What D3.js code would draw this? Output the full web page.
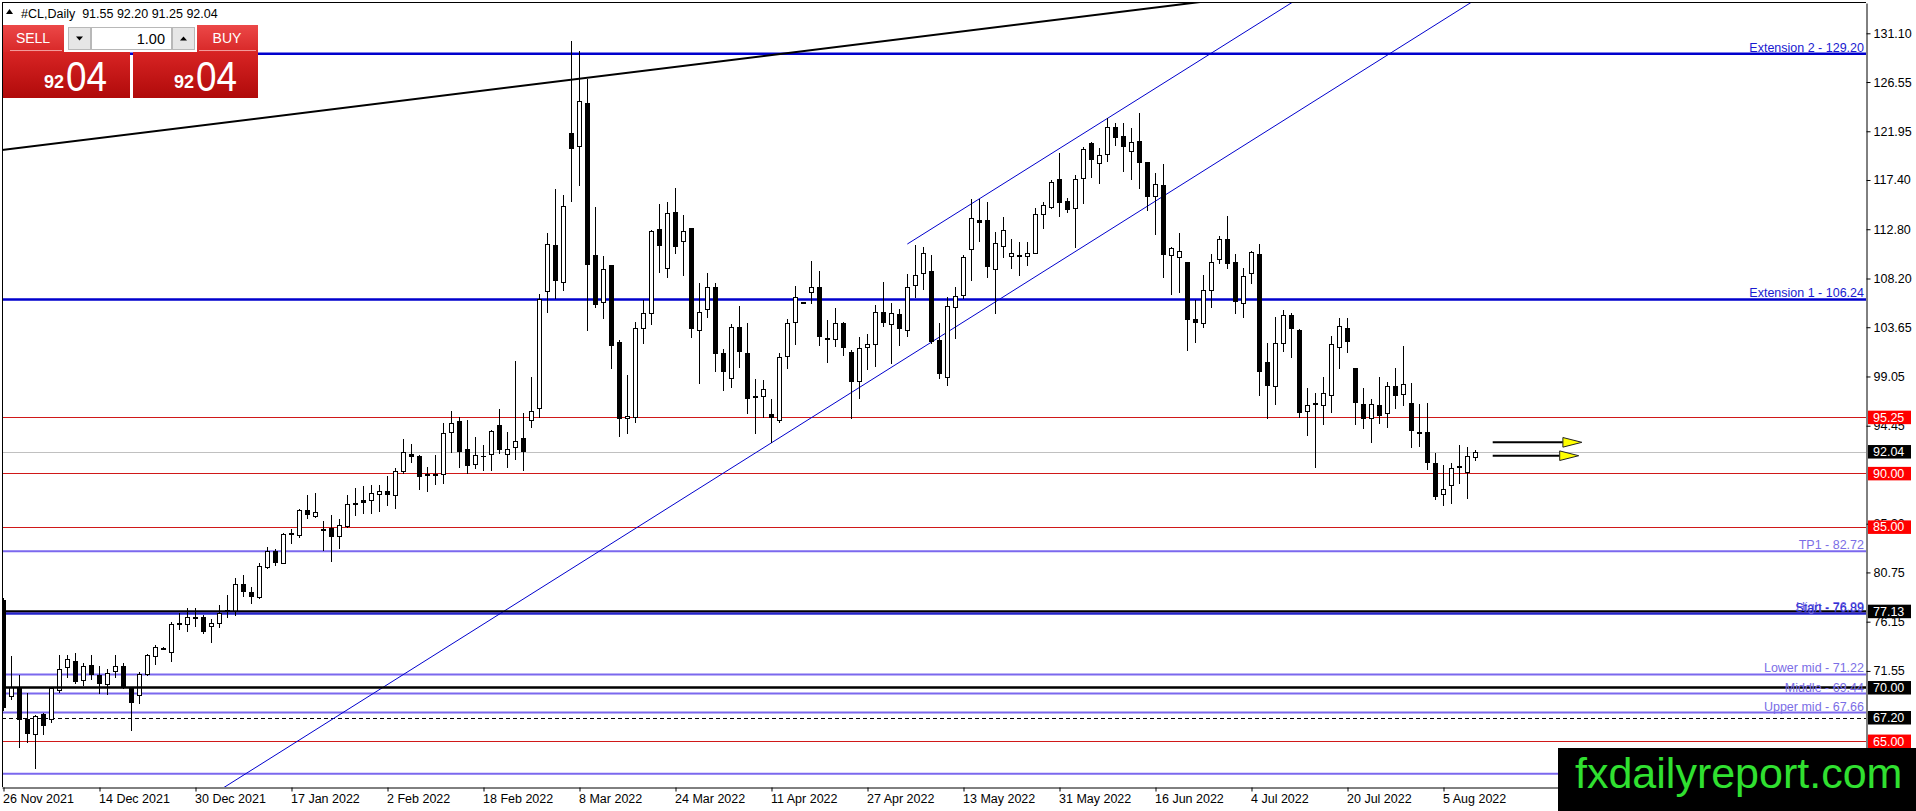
<!DOCTYPE html>
<html><head><meta charset="utf-8">
<script src="https://cdn.jsdelivr.net/npm/d3@7"></script>
<style>html,body{margin:0;padding:0;background:#fff;overflow:hidden}svg{display:block}</style>
</head><body>
<svg id="chart" width="1916" height="811"></svg>
<script>
// ---------------- DATA ----------------
const symbolName = "#CL,Daily";
const opens = [78.17,69.21,70.02,67.03,65.63,67.49,67.03,69.77,71.88,72.50,
70.70,72.07,71.17,70.33,71.51,72.01,70.02,69.30,71.26,73.00,
73.69,73.35,75.98,75.93,76.55,76.62,75.68,75.99,77.18,77.18,
79.67,78.92,78.42,81.29,82.78,81.66,84.34,84.24,86.58,86.02,
84.77,84.87,84.15,85.08,87.20,87.52,87.52,88.13,88.38,87.98,
90.25,91.81,91.62,89.84,89.90,90.00,93.89,94.89,92.25,90.84,
91.58,91.77,94.51,91.77,92.49,93.27,94.92,96.07,107.06,111.33,
107.90,121.75,120.60,124.56,110.39,105.94,109.46,102.30,95.20,95.23,
103.54,105.00,112.79,109.24,114.44,111.73,112.88,103.45,105.32,107.43,
101.21,98.87,103.64,101.21,97.10,97.22,95.51,95.04,100.96,104.07,
105.90,106.97,107.37,102.58,102.51,104.01,101.36,98.56,101.77,102.08,
105.10,104.01,104.88,103.45,107.59,108.68,108.93,102.45,98.97,105.50,
106.66,110.92,113.66,113.66,109.05,111.23,110.24,110.36,110.36,110.61,
114.22,114.91,117.46,115.47,114.75,117.55,120.82,119.02,119.80,122.38,
121.51,120.14,121.01,119.05,115.90,116.90,110.33,110.24,109.71,104.38,
104.01,107.19,109.99,111.86,109.71,105.94,108.74,110.49,100.37,98.16,
102.21,104.79,103.39,95.85,96.50,96.32,97.29,101.77,103.61,99.81,
96.48,95.14,96.38,95.60,98.16,97.41,96.60,93.80,93.83,90.93,
88.04,88.88,90.69,90.16,91.55];
const highs = [78.40,72.94,71.20,69.45,67.40,67.60,70.00,73.00,73.00,73.25,
72.32,73.03,72.01,71.76,73.00,72.26,70.08,71.48,73.13,73.97,
73.75,76.12,76.93,77.39,77.39,76.77,76.37,77.70,78.64,80.20,
80.51,79.42,81.66,83.15,82.90,84.40,84.77,86.64,87.98,88.13,
85.58,86.11,85.71,87.98,88.60,88.82,88.90,88.90,89.75,90.47,
93.18,92.74,91.72,90.56,91.72,94.74,95.86,95.30,94.98,93.37,
92.65,94.05,95.98,93.89,100.52,95.67,99.03,106.75,112.41,116.52,
116.00,130.41,129.48,126.80,114.84,110.30,109.50,102.45,99.18,104.16,
106.19,112.73,115.15,115.37,116.62,114.13,112.90,107.74,108.68,107.74,
101.58,103.95,105.63,104.01,98.78,98.72,96.91,101.27,104.38,107.53,
106.00,109.86,108.93,104.32,105.41,104.16,101.52,102.76,103.01,105.72,
107.90,105.88,105.32,108.62,111.33,111.11,110.39,104.07,106.44,107.43,
110.39,115.59,115.59,115.37,112.57,113.97,111.86,111.64,111.64,114.75,
115.37,117.40,119.89,115.69,117.87,120.51,120.98,120.36,123.16,122.69,
122.69,122.22,123.63,119.11,118.02,118.89,111.17,112.42,109.75,106.19,
108.53,110.49,112.17,114.04,110.49,109.15,110.80,111.42,102.20,104.57,
105.26,104.94,103.45,97.94,97.53,98.97,102.83,104.48,104.48,99.85,
97.94,96.91,98.97,98.56,99.81,101.89,98.47,96.48,96.60,91.93,
90.78,90.93,92.65,92.49,92.20];
const lows = [67.90,68.89,64.47,64.94,62.45,65.66,66.80,69.60,70.95,70.39,
70.23,70.76,69.52,69.39,71.00,69.92,66.03,68.58,71.17,72.19,
73.60,72.51,75.43,75.31,75.74,75.12,74.28,75.68,76.55,76.77,
78.55,77.86,78.33,81.13,81.44,81.60,83.47,84.09,85.80,85.90,
82.84,81.85,83.00,84.96,86.11,86.33,86.33,86.52,87.05,86.73,
90.07,91.09,88.51,88.38,89.00,89.13,92.03,90.56,90.00,90.47,
90.31,90.31,91.93,90.56,91.31,90.31,94.36,95.29,105.10,106.34,
107.12,115.47,116.93,103.39,105.50,104.48,99.81,93.49,93.80,94.82,
102.20,103.95,108.83,108.37,110.55,108.52,102.76,98.47,104.57,99.59,
97.78,98.03,99.90,95.67,93.80,95.23,92.96,94.83,99.81,102.08,
105.88,105.88,101.99,100.43,101.89,101.05,95.14,97.00,99.71,100.02,
103.76,100.27,101.99,102.83,106.44,107.18,102.20,98.87,98.25,102.61,
106.35,108.06,111.73,108.37,105.01,110.24,109.15,108.53,109.46,110.55,
112.88,114.75,114.04,114.44,111.17,115.22,117.65,117.09,119.20,120.67,
118.27,117.46,116.62,114.60,112.35,108.31,106.75,106.97,101.52,102.30,
103.64,105.57,109.61,109.15,105.01,104.57,107.81,97.32,95.14,96.48,
101.46,100.90,95.29,93.58,90.56,94.61,95.76,99.81,101.36,94.61,
94.20,92.96,94.73,94.30,96.07,96.38,92.43,92.55,90.37,87.57,
87.04,87.20,89.07,87.67,91.25];
const closes = [68.10,70.08,66.96,65.66,67.34,66.34,69.92,71.70,72.63,70.54,
72.01,71.17,70.33,71.39,72.01,70.02,68.52,71.26,73.04,73.81,
73.72,75.93,76.02,76.55,76.60,75.18,75.99,76.93,77.22,79.67,
78.95,78.42,81.35,82.78,81.66,84.34,84.40,86.58,86.11,86.42,
84.80,84.03,85.15,87.14,87.27,87.27,88.13,88.38,87.98,90.25,
92.03,91.56,89.69,89.97,89.95,93.80,94.74,92.03,90.69,91.71,
91.56,93.95,92.18,92.24,93.02,91.93,95.79,106.25,111.42,107.99,
114.97,120.26,124.77,109.46,105.72,109.05,101.89,95.14,95.35,103.54,
104.94,112.66,111.23,114.34,111.17,112.66,103.45,105.10,107.37,101.14,
99.40,103.64,101.27,96.91,97.20,97.84,95.14,100.90,104.07,106.44,
105.98,107.43,102.70,102.65,104.01,101.67,98.56,101.67,102.08,105.10,
104.07,105.00,103.45,107.43,108.52,110.55,102.30,99.28,105.63,106.56,
110.24,113.82,113.41,109.24,111.48,112.73,110.55,110.40,110.61,114.22,
115.06,117.24,115.22,114.66,117.46,120.26,119.27,119.73,122.32,121.38,
120.45,120.95,118.95,115.78,116.99,110.33,111.02,110.77,104.26,104.01,
107.12,109.77,111.86,109.55,105.94,108.43,110.70,99.50,98.10,102.14,
104.79,103.45,95.60,96.38,96.58,97.47,102.08,103.76,102.30,96.54,
95.04,96.48,95.36,98.16,97.22,98.34,93.99,93.85,90.93,87.76,
88.51,90.47,90.47,91.62,92.04];

const dateLabels = ["26 Nov 2021","14 Dec 2021","30 Dec 2021","17 Jan 2022","2 Feb 2022","18 Feb 2022","8 Mar 2022","24 Mar 2022","11 Apr 2022","27 Apr 2022","13 May 2022","31 May 2022","16 Jun 2022","4 Jul 2022","20 Jul 2022","5 Aug 2022"];
const dateLabelBars = [0,12,24,36,48,60,72,84,96,108,120,132,144,156,168,180];
const priceTicks = [131.10,126.55,121.95,117.40,112.80,108.20,103.65,99.05,94.45,85.30,80.75,76.15,71.55];

const fiboPrices = [129.20,106.24,82.72,76.99,76.89,71.22,69.44,67.66,61.95];
const fiboNames  = ["Extension 2","Extension 1","TP1","High","Start","Lower mid","Middle","Upper mid",""];
const redLevels = [95.25,90.00,85.00,65.00];
const blackLevels = [77.13,70.00];
const dashedLevels = [67.20];
const lotSize = "1.00";

// trend lines: [bar, price] anchor pairs
const blackTrend = [[59.56,125.71],[119.56,131.25]];
const channelLow = [[27.69,60.73],[159.56,122.75]];
const channelHigh = [[112.98,111.42],[141.65,124.87]];
// arrows: [startBar, endBar, price]
const arrowsData = [[186.15,197.3,92.90],[186.15,196.9,91.65]];

// ---------------- SETUP ----------------
const plot = {left:2, top:3, right:1866, bottom:787};
const FONT = "'Liberation Sans', Arial, sans-serif";
const x = d3.scaleLinear().domain([-0.1875, 232.8125]).range([plot.left, plot.right]);
const y = d3.scaleLinear().domain([60.71, 133.93]).range([plot.bottom, plot.top]);
const svg = d3.select('#chart');
svg.append('rect').attr('width',1916).attr('height',811).attr('fill','#fff');
const defs = svg.append('defs');
defs.append('clipPath').attr('id','clip').append('rect')
  .attr('x',plot.left).attr('y',plot.top).attr('width',plot.right-plot.left).attr('height',plot.bottom-plot.top);

const bars = d3.range(opens.length).map(i => ({i, o:opens[i], h:highs[i], l:lows[i], c:closes[i]}));
const last = bars[bars.length-1];

const body = svg.append('g').attr('clip-path','url(#clip)');

// horizontal levels
const fiboStyle = (name) => {
  if (name.startsWith('Extension')) return {stroke:'#0000cd', w:2.5, text:'#1a1ad0'};
  if (name === 'Start') return {stroke:'#2424cc', w:2, text:'#3030d0'};
  return {stroke:'#7b68ee', w:2, text:'#7b6ee6'};
};
const fibo = fiboPrices.map((p,k) => ({p, name:fiboNames[k]}));
body.selectAll('line.fibo').data(fibo).join('line').attr('class','fibo')
  .attr('x1',plot.left).attr('x2',plot.right)
  .attr('y1',d=>y(d.p)).attr('y2',d=>y(d.p))
  .attr('stroke',d=>fiboStyle(d.name).stroke).attr('stroke-width',d=>fiboStyle(d.name).w);
body.selectAll('line.red').data(redLevels).join('line').attr('class','red')
  .attr('x1',plot.left).attr('x2',plot.right).attr('y1',d=>Math.round(y(d))+0.5).attr('y2',d=>Math.round(y(d))+0.5)
  .attr('stroke','#d01818').attr('stroke-width',1);
body.append('line').attr('x1',plot.left).attr('x2',plot.right)
  .attr('y1',Math.round(y(last.c))+0.5).attr('y2',Math.round(y(last.c))+0.5)
  .attr('stroke','#c0c0c0').attr('stroke-width',1);
body.selectAll('line.dash').data(dashedLevels).join('line').attr('class','dash')
  .attr('x1',plot.left).attr('x2',plot.right).attr('y1',d=>Math.round(y(d))+0.5).attr('y2',d=>Math.round(y(d))+0.5)
  .attr('stroke','#000').attr('stroke-width',1).attr('stroke-dasharray','4,3');

// trend lines (extended across the plot, clipped)
function extLine(pts, fromStart){
  const [a,b] = pts; const s = (b[1]-a[1])/(b[0]-a[0]);
  const x0 = fromStart ? a[0] : x.domain()[0]-5, x1 = x.domain()[1]+5;
  return [[x0, a[1]+s*(x0-a[0])],[x1, a[1]+s*(x1-a[0])]];
}
const tl = [
  {pts:extLine(blackTrend,false), c:'#000', w:2},
  {pts:extLine(channelLow,false), c:'#0000cd', w:1},
  {pts:extLine(channelHigh,true), c:'#0000cd', w:1}
];
body.selectAll('line.trend').data(tl).join('line').attr('class','trend')
  .attr('x1',d=>x(d.pts[0][0])).attr('y1',d=>y(d.pts[0][1]))
  .attr('x2',d=>x(d.pts[1][0])).attr('y2',d=>y(d.pts[1][1]))
  .attr('stroke',d=>d.c).attr('stroke-width',d=>d.w);

// candles
body.selectAll('line.wick').data(bars).join('line').attr('class','wick')
  .attr('x1',d=>x(d.i)).attr('x2',d=>x(d.i))
  .attr('y1',d=>Math.round(y(d.h))).attr('y2',d=>Math.round(y(d.l))+1)
  .attr('stroke','#000').attr('stroke-width',1);
body.selectAll('rect.cbody').data(bars).join('rect').attr('class','cbody')
  .attr('shape-rendering','crispEdges')
  .attr('x',d=> d.c>=d.o ? x(d.i)-2 : x(d.i)-2.5)
  .attr('width',d=> d.c>=d.o ? 4 : 5)
  .attr('y',d=> Math.round(y(Math.max(d.o,d.c))) + (d.c>=d.o?0.5:0))
  .attr('height',d=> Math.max(1, Math.round(Math.abs(y(d.o)-y(d.c)))))
  .attr('fill',d=> d.c>=d.o ? '#fff' : '#000')
  .attr('stroke',d=> d.c>=d.o ? '#000' : 'none').attr('stroke-width',1);

// level labels
svg.selectAll('text.fibo').data(fibo.filter(d=>d.name)).join('text').attr('class','fibo')
  .attr('x',plot.right-2).attr('y',d=>y(d.p)-2).attr('text-anchor','end')
  .attr('font-family',FONT).attr('font-size',12.5)
  .attr('fill',d=>fiboStyle(d.name).text)
  .text(d=>`${d.name} - ${d.p.toFixed(2)}`);

// black solid levels (drawn over labels)
body.selectAll('line.blk').data(blackLevels).join('line').attr('class','blk')
  .attr('x1',plot.left).attr('x2',plot.right).attr('y1',d=>y(d)).attr('y2',d=>y(d))
  .attr('stroke','#000').attr('stroke-width',(d,k)=>k===1?2.6:2);

// arrows
const ag = svg.append('g');
arrowsData.forEach(([b0,b1,p]) => {
  const yy = y(p), xs = x(b0), xe = x(b1), xb = xe-19;
  ag.append('line').attr('x1',xs).attr('x2',xb).attr('y1',yy).attr('y2',yy).attr('stroke','#000').attr('stroke-width',2);
  ag.append('polygon').attr('points',`${xb},${yy-4.8} ${xe},${yy} ${xb},${yy+4.8}`)
    .attr('fill','#ffff00').attr('stroke','#222').attr('stroke-width',1);
});

// frame
svg.append('line').attr('x1',plot.left+0.5).attr('x2',plot.left+0.5).attr('y1',plot.top).attr('y2',plot.bottom).attr('stroke','#000');
svg.append('line').attr('x1',plot.left).attr('x2',plot.right).attr('y1',plot.top-0.5).attr('y2',plot.top-0.5).attr('stroke','#000');

// right axis
const ya = svg.append('g').attr('transform',`translate(${plot.right+0.5},0)`)
  .call(d3.axisRight(y).tickValues(priceTicks).tickSize(4).tickPadding(3).tickSizeOuter(0).tickFormat(d3.format('.2f')));
ya.select('.domain').attr('stroke','#000');
ya.selectAll('text').attr('font-family',FONT).attr('font-size',12.5).attr('fill','#000');
ya.selectAll('line').attr('stroke','#000');

// bottom axis
const xa = svg.append('g').attr('transform',`translate(0,${plot.bottom+0.5})`)
  .call(d3.axisBottom(x).tickValues(dateLabelBars).tickSize(4).tickPadding(3).tickSizeOuter(0)
    .tickFormat((d,k)=>dateLabels[k]));
xa.select('.domain').attr('stroke','#000');
xa.selectAll('text').attr('font-family',FONT).attr('font-size',12.5).attr('fill','#000').attr('text-anchor','start').attr('x',-1);
xa.selectAll('line').attr('stroke','#000');

// price label boxes
const boxes = [
  ...redLevels.map(p=>({p, bg:'#ff0000'})),
  ...blackLevels.map(p=>({p, bg:'#000'})),
  ...dashedLevels.map(p=>({p, bg:'#000'})),
  {p:last.c, bg:'#000'}
];
const bx = svg.append('g');
bx.selectAll('rect').data(boxes).join('rect')
  .attr('x',plot.right+2).attr('width',43).attr('y',d=>y(d.p)-6.5).attr('height',13.5).attr('fill',d=>d.bg);
bx.selectAll('text').data(boxes).join('text')
  .attr('x',plot.right+7).attr('y',d=>y(d.p)).attr('dy','0.36em')
  .attr('font-family',FONT).attr('font-size',12.5).attr('fill','#fff').text(d=>d.p.toFixed(2));

// header
svg.append('polygon').attr('points','6,14 13,14 9.5,9').attr('fill','#000');
svg.append('text').attr('x',21).attr('y',17.5).attr('font-family',FONT).attr('font-size',12.5).attr('fill','#000')
  .style('white-space','pre')
  .text(`${symbolName}  ${last.o.toFixed(2)} ${last.h.toFixed(2)} ${last.l.toFixed(2)} ${last.c.toFixed(2)}`);

// trade panel
const grad = defs.append('linearGradient').attr('id','bigRed').attr('x1',0).attr('x2',0).attr('y1',0).attr('y2',1);
grad.append('stop').attr('offset','0%').attr('stop-color','#d82424');
grad.append('stop').attr('offset','100%').attr('stop-color','#b00a0a');
const grad2 = defs.append('linearGradient').attr('id','smallRed').attr('x1',0).attr('x2',0).attr('y1',0).attr('y2',1);
grad2.append('stop').attr('offset','0%').attr('stop-color','#ec4848');
grad2.append('stop').attr('offset','100%').attr('stop-color','#d82828');
const tp = svg.append('g');
tp.append('rect').attr('x',3).attr('y',25).attr('width',61).attr('height',27).attr('fill','url(#smallRed)');
tp.append('rect').attr('x',197).attr('y',25).attr('width',61).attr('height',27).attr('fill','url(#smallRed)');
tp.append('line').attr('x1',10).attr('x2',62).attr('y1',50.5).attr('y2',50.5).attr('stroke','#f39a9a');
tp.append('line').attr('x1',199).attr('x2',256).attr('y1',50.5).attr('y2',50.5).attr('stroke','#f39a9a');
tp.append('text').attr('x',33).attr('y',43).attr('text-anchor','middle').attr('font-family',FONT).attr('font-size',14).attr('fill','#fff').text('SELL');
tp.append('text').attr('x',227).attr('y',43).attr('text-anchor','middle').attr('font-family',FONT).attr('font-size',14).attr('fill','#fff').text('BUY');
tp.append('rect').attr('x',68.5).attr('y',27.5).attr('width',22).attr('height',22).attr('fill','#e6e6e6').attr('stroke','#b8b8b8');
tp.append('rect').attr('x',91.5).attr('y',27.5).attr('width',80).attr('height',22).attr('fill','#fff').attr('stroke','#b8b8b8');
tp.append('rect').attr('x',172.5).attr('y',27.5).attr('width',22).attr('height',22).attr('fill','#e6e6e6').attr('stroke','#b8b8b8');
tp.append('polygon').attr('points','76,36.5 83,36.5 79.5,40.5').attr('fill','#000');
tp.append('polygon').attr('points','180,40.5 187,40.5 183.5,36.5').attr('fill','#000');
tp.append('text').attr('x',165).attr('y',44).attr('text-anchor','end').attr('font-family',FONT).attr('font-size',14.5).attr('fill','#000').text(lotSize);
const big = [{x0:3,w:127},{x0:133,w:125}];
const priceStr = last.c.toFixed(2).split('.');
big.forEach(b => {
  tp.append('rect').attr('x',b.x0).attr('y',52).attr('width',b.w).attr('height',46).attr('fill','url(#bigRed)');
  tp.append('text').attr('x',b.x0+41).attr('y',88).attr('font-family',FONT).attr('font-size',18).attr('font-weight','bold').attr('fill','#fff').text(priceStr[0]);
  tp.append('text').attr('x',b.x0+63).attr('y',91).attr('font-family',FONT).attr('font-size',42)
    .attr('textLength',41).attr('lengthAdjust','spacingAndGlyphs').attr('fill','#fff').text(priceStr[1]);
});

// watermark
svg.append('rect').attr('x',1558).attr('y',748).attr('width',358).attr('height',63).attr('fill','#000');
svg.append('text').attr('x',1575).attr('y',788).attr('font-family',FONT).attr('font-size',43).attr('fill','#30e030').text('fxdailyreport.com');
</script>
</body></html>
